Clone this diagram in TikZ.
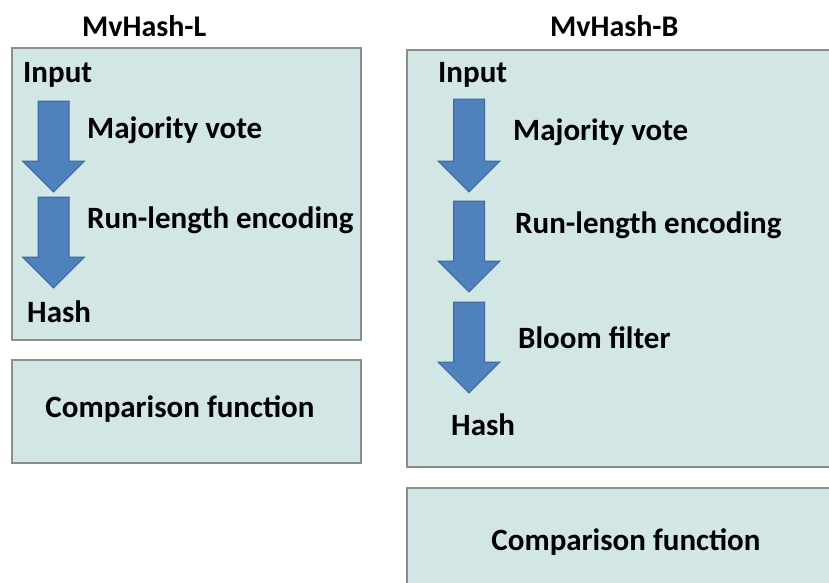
\documentclass[tikz,border=0pt]{standalone}
\usepackage{fontspec}
\setmainfont{Carlito}

\definecolor{boxfill}{HTML}{D2E7E5}
\definecolor{boxline}{HTML}{8C8C8C}
\definecolor{arrowfill}{HTML}{4F81BD}
\definecolor{arrowline}{HTML}{3B679A}

\tikzset{
  panel/.style={fill=boxfill,draw=boxline,line width=1.3pt},
  blockarrow/.style={fill=arrowfill,draw=arrowline,line width=1pt,line join=miter},
  lbl/.style={anchor=base west,inner sep=0pt,font=\fontsize{31}{36}\selectfont\bfseries},
  title/.style={lbl,font=\fontsize{30}{36}\selectfont\bfseries}
}

% block arrow: center x, top y, tip y
\newcommand{\downarrowblock}[3]{%
  \filldraw[blockarrow] (#1-15.5,#2) -- (#1+15.5,#2) -- (#1+15.5,#3-31) -- (#1+31,#3-31)
    -- (#1,#3) -- (#1-31,#3-31) -- (#1-15.5,#3-31) -- cycle;}

\begin{document}
\begin{tikzpicture}[x=1pt,y=-1pt]

\useasboundingbox (0,0) rectangle (829,582);
\clip (0,0) rectangle (829,582);

% Boxen
\draw[panel] (12,48) rectangle (361,340);
\draw[panel] (12,360) rectangle (361,463);
\draw[panel] (407,50) rectangle (840,467);
\draw[panel] (407,488) rectangle (840,600);

% Pfeile links
\downarrowblock{53.5}{101}{192}
\downarrowblock{53.5}{197}{288}

% Pfeile rechts
\downarrowblock{469}{99}{192}
\downarrowblock{469}{201}{292}
\downarrowblock{469}{302}{393}

% Beschriftungen links
\node[title] (titleL) at (82,36) {MvHash-L};
\node[lbl] (inL) at (23,82) {Input};
\node[lbl] (voteL) at (87,138) {Majority vote};
\node[lbl] (rleL) at (87,228) {Run-length encoding};
\node[lbl] (hashL) at (27,322) {Hash};
\node[lbl,anchor=base] (cmpL) at (180,417) {Comparison function};

% Beschriftungen rechts
\node[title] (titleR) at (550,36) {MvHash-B};
\node[lbl] (inR) at (438,82) {Input};
\node[lbl] (voteR) at (513,140) {Majority vote};
\node[lbl] (rleR) at (515,233) {Run-length encoding};
\node[lbl] (bloomR) at (518,348) {Bloom filter};
\node[lbl] (hashR) at (451,435) {Hash};
\node[lbl,anchor=base] (cmpR) at (626,550) {Comparison function};

\end{tikzpicture}
\end{document}
